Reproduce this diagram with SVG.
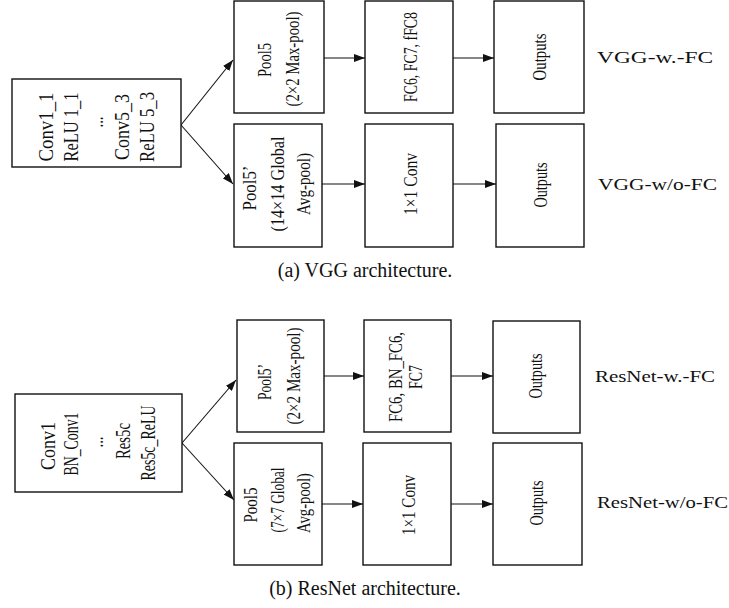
<svg xmlns="http://www.w3.org/2000/svg" width="729" height="608" viewBox="0 0 729 608">
<style>
.box{fill:#fff;stroke:#111;stroke-width:1.4}
.t{font-family:"Liberation Serif","Times New Roman",serif;font-size:19px;fill:#111;text-anchor:middle}
.tl{font-family:"Liberation Serif","Times New Roman",serif;font-size:21px;fill:#111;text-anchor:middle}
.lbl{font-family:"Liberation Serif","Times New Roman",serif;font-size:16px;fill:#111}
.cap{font-family:"Liberation Serif","Times New Roman",serif;font-size:20px;fill:#111;text-anchor:middle}
.c{fill:none;stroke:#111;stroke-width:1.1;marker-end:url(#ah)}
</style>
<defs>
<marker id="ah" markerUnits="userSpaceOnUse" markerWidth="11" markerHeight="8" refX="11" refY="4" orient="auto">
<path d="M0,0 L11,4 L0,8 z" fill="#111"/>
</marker>
</defs>
<rect width="729" height="608" fill="#fff"/>

<g id="connectors">
<path class="c" d="M181,125 L233,60"/>
<path class="c" d="M181,125 L233,184"/>
<path class="c" d="M324,58 L365,58"/>
<path class="c" d="M453,58 L494,58"/>
<path class="c" d="M322,184 L365,184"/>
<path class="c" d="M453,184 L496,184"/>
<path class="c" d="M182,443 L236,380"/>
<path class="c" d="M182,443 L234,500"/>
<path class="c" d="M324,376 L364,376"/>
<path class="c" d="M451,376 L493,376"/>
<path class="c" d="M322,504 L363,504"/>
<path class="c" d="M451,504 L493,504"/>
</g>

<!-- VGG -->
<g id="vgg-conv">
<rect class="box" x="12" y="79" width="169" height="88"/>
<text class="tl" transform="translate(53,127) rotate(-90)" textLength="69" lengthAdjust="spacingAndGlyphs">Conv1_1</text>
<text class="tl" transform="translate(78,127) rotate(-90)" textLength="69" lengthAdjust="spacingAndGlyphs">ReLU 1_1</text>
<text class="tl" transform="translate(103,122) rotate(-90)" textLength="11" lengthAdjust="spacingAndGlyphs">...</text>
<text class="tl" transform="translate(129,127) rotate(-90)" textLength="66" lengthAdjust="spacingAndGlyphs">Conv5_3</text>
<text class="tl" transform="translate(154,127) rotate(-90)" textLength="70" lengthAdjust="spacingAndGlyphs">ReLU 5_3</text>
</g>
<g id="vgg-pool5">
<rect class="box" x="234" y="1" width="90" height="112"/>
<text class="t" transform="translate(271,60) rotate(-90)" textLength="34" lengthAdjust="spacingAndGlyphs">Pool5</text>
<text class="t" transform="translate(299,59) rotate(-90)" textLength="95" lengthAdjust="spacingAndGlyphs">(2×2 Max-pool)</text>
</g>
<g id="vgg-fc">
<rect class="box" x="365" y="1" width="88" height="112"/>
<text class="t" transform="translate(417,57) rotate(-90)" textLength="90" lengthAdjust="spacingAndGlyphs">FC6, FC7, fFC8</text>
</g>
<g id="vgg-out1">
<rect class="box" x="494" y="1" width="90" height="112"/>
<text class="t" transform="translate(546,57) rotate(-90)" textLength="47" lengthAdjust="spacingAndGlyphs">Outputs</text>
</g>
<g id="vgg-pool5b">
<rect class="box" x="234" y="124" width="88" height="123"/>
<text class="t" transform="translate(256,188) rotate(-90)" textLength="45" lengthAdjust="spacingAndGlyphs">Pool5’</text>
<text class="t" transform="translate(284,184) rotate(-90)" textLength="95" lengthAdjust="spacingAndGlyphs">(14×14 Global</text>
<text class="t" transform="translate(310,184) rotate(-90)" textLength="62" lengthAdjust="spacingAndGlyphs">Avg-pool)</text>
</g>
<g id="vgg-conv1x1">
<rect class="box" x="365" y="124" width="88" height="123"/>
<text class="t" transform="translate(417,184) rotate(-90)" textLength="62" lengthAdjust="spacingAndGlyphs">1×1 Conv</text>
</g>
<g id="vgg-out2">
<rect class="box" x="496" y="124" width="88" height="123"/>
<text class="t" transform="translate(547,185) rotate(-90)" textLength="45" lengthAdjust="spacingAndGlyphs">Outputs</text>
</g>
<text class="lbl" x="597" y="63" textLength="116" lengthAdjust="spacingAndGlyphs">VGG-w.-FC</text>
<text class="lbl" x="598" y="190" textLength="119" lengthAdjust="spacingAndGlyphs">VGG-w/o-FC</text>
<text class="cap" x="365" y="277">(a) VGG architecture.</text>

<!-- ResNet -->
<g id="res-conv">
<rect class="box" x="15" y="394" width="167" height="98"/>
<text class="tl" transform="translate(55,446) rotate(-90)" textLength="48" lengthAdjust="spacingAndGlyphs">Conv1</text>
<text class="tl" transform="translate(78,444) rotate(-90)" textLength="63" lengthAdjust="spacingAndGlyphs">BN_Conv1</text>
<text class="tl" transform="translate(103,442) rotate(-90)" textLength="11" lengthAdjust="spacingAndGlyphs">...</text>
<text class="tl" transform="translate(130,441) rotate(-90)" textLength="36" lengthAdjust="spacingAndGlyphs">Res5c</text>
<text class="tl" transform="translate(155,443) rotate(-90)" textLength="75" lengthAdjust="spacingAndGlyphs">Res5c_ReLU</text>
</g>
<g id="res-pool5b">
<rect class="box" x="237" y="320" width="87" height="112"/>
<text class="t" transform="translate(271,382) rotate(-90)" textLength="36" lengthAdjust="spacingAndGlyphs">Pool5’</text>
<text class="t" transform="translate(300,376) rotate(-90)" textLength="97" lengthAdjust="spacingAndGlyphs">(2×2 Max-pool)</text>
</g>
<g id="res-fc">
<rect class="box" x="364" y="320" width="87" height="112"/>
<text class="t" transform="translate(402,377) rotate(-90)" textLength="90" lengthAdjust="spacingAndGlyphs">FC6, BN_FC6,</text>
<text class="t" transform="translate(422,377) rotate(-90)" textLength="24" lengthAdjust="spacingAndGlyphs">FC7</text>
</g>
<g id="res-out1">
<rect class="box" x="493" y="321" width="87" height="112"/>
<text class="t" transform="translate(542,376) rotate(-90)" textLength="45" lengthAdjust="spacingAndGlyphs">Outputs</text>
</g>
<g id="res-pool5">
<rect class="box" x="234" y="443" width="88" height="122"/>
<text class="t" transform="translate(257,505) rotate(-90)" textLength="35" lengthAdjust="spacingAndGlyphs">Pool5</text>
<text class="t" transform="translate(284,500) rotate(-90)" textLength="65" lengthAdjust="spacingAndGlyphs">(7×7 Global</text>
<text class="t" transform="translate(310,503) rotate(-90)" textLength="60" lengthAdjust="spacingAndGlyphs">Avg-pool)</text>
</g>
<g id="res-conv1x1">
<rect class="box" x="363" y="443" width="88" height="122"/>
<text class="t" transform="translate(415,505) rotate(-90)" textLength="60" lengthAdjust="spacingAndGlyphs">1×1 Conv</text>
</g>
<g id="res-out2">
<rect class="box" x="493" y="443" width="89" height="122"/>
<text class="t" transform="translate(543,503) rotate(-90)" textLength="45" lengthAdjust="spacingAndGlyphs">Outputs</text>
</g>
<text class="lbl" x="595" y="382" textLength="120" lengthAdjust="spacingAndGlyphs">ResNet-w.-FC</text>
<text class="lbl" x="597" y="508" textLength="131" lengthAdjust="spacingAndGlyphs">ResNet-w/o-FC</text>
<text class="cap" x="365" y="595">(b) ResNet architecture.</text>
</svg>
